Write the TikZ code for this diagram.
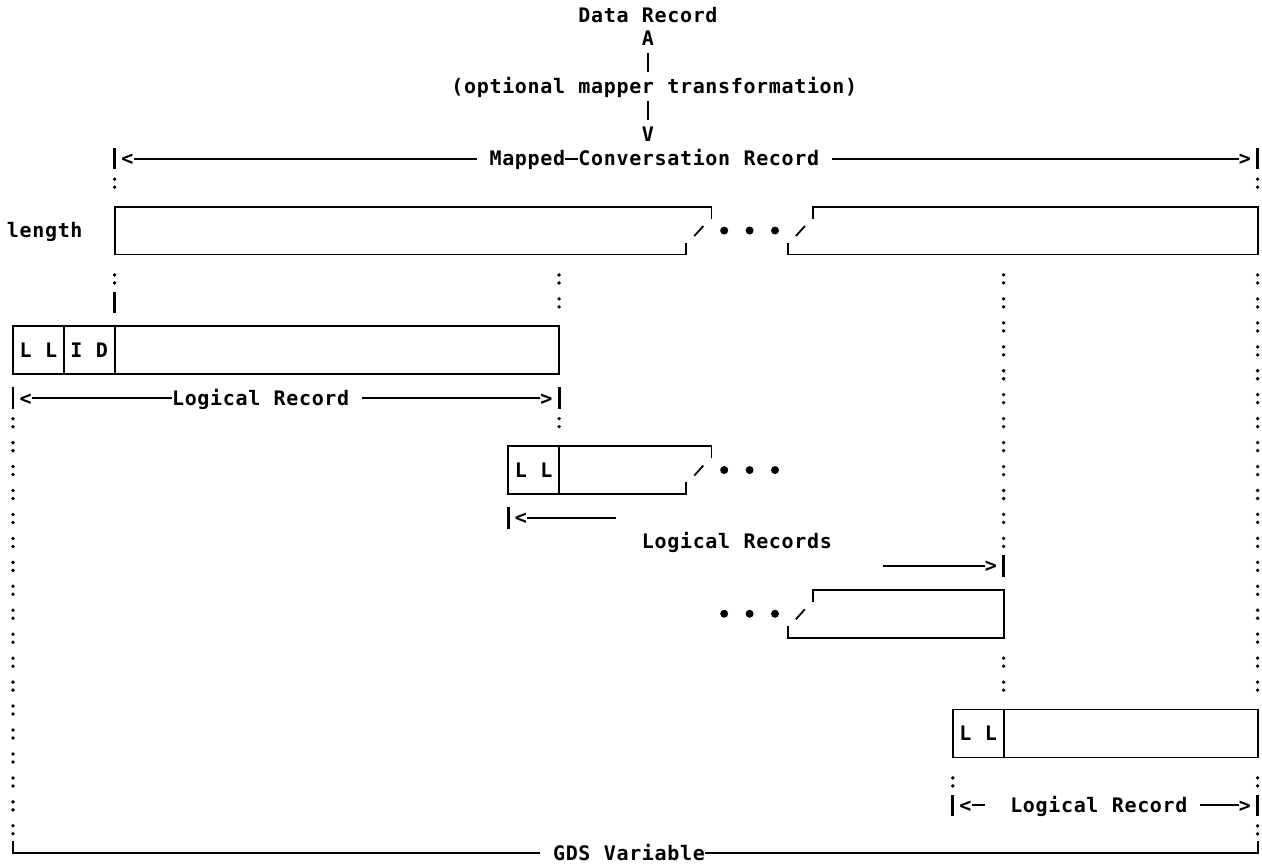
\documentclass[tikz,border=0pt]{standalone}
\usepackage{fontspec}
\newfontfamily\monofont{DejaVu Sans Mono}
% set a string on a fixed character grid, one cell per character (~ = blank cell)
\makeatletter
\def\mono#1{\mono@loop#1\mono@end}
\def\mono@end{\mono@end}
\def\mono@loop#1{\ifx#1\mono@end\else\makebox[12.7pt][c]{#1}\expandafter\mono@loop\fi}
\makeatother
\tikzset{
  txt/.style={inner sep=0pt, outer sep=0pt, anchor=base west, yshift=-7pt,
              font=\monofont\bfseries\fontsize{20pt}{22pt}\selectfont},
  rule/.style={line width=1.8pt},
  bar/.style={line width=2.8pt},
  dotpair/.pic={\fill (0pt,3.5pt) circle (1.9pt) (0pt,-4.5pt) circle (1.9pt);},
  bigdot/.pic={\fill (0pt,0pt) circle (4pt);},
  slashmark/.pic={\draw[rule] (-4.5pt,-5.5pt) -- (4.5pt,4.5pt);},
}
\begin{document}
\begin{tikzpicture}
\fill[white] (0pt,0pt) rectangle (1262pt,-863pt);
\useasboundingbox (0pt,0pt) rectangle (1262pt,-863pt);
% grid: x = character column, y = text row (downwards)
\begin{scope}[x=12.7pt, y=-23.95pt, shift={(13pt,-15pt)}]

% ---- mapper transformation ----
\node[txt] (data) at (44.5,0) {\mono{Data~Record}};
\node[txt] (up) at (49.5,1) {\mono{A}};
\draw[bar] (50,1.6) -- (50,2.4);
\node[txt] (mapper) at (34.5,3) {\mono{(optional~mapper~transformation)}};
\draw[bar] (50,3.6) -- (50,4.4);
\node[txt] (down) at (49.5,5) {\mono{V}};

% ---- mapped-conversation record extent ----
\draw[bar] (8,5.55) -- (8,6.45);
\node[txt] (mlt) at (8.5,6) {\mono{<}};
\draw[rule] (9.5,6) -- (36.5,6);
\node[txt] (mapped) at (37.5,6) {\mono{Mapped}};
\draw[rule] (43.5,6) -- (44.5,6);
\node[txt] (conv) at (44.5,6) {\mono{Conversation~Record}};
\draw[rule] (64.5,6) -- (96.5,6);
\node[txt] (mgt) at (96.5,6) {\mono{>}};
\draw[bar] (98,5.55) -- (98,6.45);

% ---- length field with broken record ----
\node[txt] (length) at (-0.5,9) {\mono{length}};
\draw[rule] (55,8.5) -- (55,8) -- (8,8) -- (8,10) -- (53,10) -- (53,9.5);
\draw[rule] (63,8.5) -- (63,8) -- (98,8) -- (98,10) -- (61,10) -- (61,9.5);
\pic at (54,9) {slashmark};
\pic at (62,9) {slashmark};
\foreach \c in {56,58,60} \pic at (\c,9) {bigdot};

% ---- first logical record ----
\draw[bar] (8,11.55) -- (8,12.45);
\draw[rule] (0,13) rectangle (43,15);
\draw[rule] (4,13) -- (4,15);
\draw[rule] (8,13) -- (8,15);
\node[txt] (ll1) at (0.5,14) {\mono{L~L}};
\node[txt] (id1) at (4.5,14) {\mono{I~D}};
\draw[bar] (0,15.55) -- (0,16.45);
\node[txt] (lt1) at (0.5,16) {\mono{<}};
\draw[rule] (1.5,16) -- (12.5,16);
\node[txt] (lr1) at (12.5,16) {\mono{Logical~Record}};
\draw[rule] (27.5,16) -- (41.5,16);
\node[txt] (gt1) at (41.5,16) {\mono{>}};
\draw[bar] (43,15.55) -- (43,16.45);

% ---- following logical records ----
\draw[rule] (55,18.5) -- (55,18) -- (39,18) -- (39,20) -- (53,20) -- (53,19.5);
\draw[rule] (43,18) -- (43,20);
\node[txt] (ll2) at (39.5,19) {\mono{L~L}};
\pic at (54,19) {slashmark};
\foreach \c in {56,58,60} \pic at (\c,19) {bigdot};
\draw[bar] (39,20.55) -- (39,21.45);
\node[txt] (lt2) at (39.5,21) {\mono{<}};
\draw[rule] (40.5,21) -- (47.5,21);
\node[txt] (lrs) at (49.5,22) {\mono{Logical~Records}};
\draw[rule] (68.5,23) -- (76.5,23);
\node[txt] (gt2) at (76.5,23) {\mono{>}};
\draw[bar] (78,22.55) -- (78,23.45);
\draw[rule] (63,24.5) -- (63,24) -- (78,24) -- (78,26) -- (61,26) -- (61,25.5);
\pic at (62,25) {slashmark};
\foreach \c in {56,58,60} \pic at (\c,25) {bigdot};

% ---- last logical record ----
\draw[rule] (74,29) rectangle (98,31);
\draw[rule] (78,29) -- (78,31);
\node[txt] (ll4) at (74.5,30) {\mono{L~L}};
\draw[bar] (74,32.55) -- (74,33.45);
\node[txt] (lt4) at (74.5,33) {\mono{<}};
\draw[rule] (75.5,33) -- (76.5,33);
\node[txt] (lr4) at (78.5,33) {\mono{Logical~Record}};
\draw[rule] (93.5,33) -- (96.5,33);
\node[txt] (gt4) at (96.5,33) {\mono{>}};
\draw[bar] (98,32.55) -- (98,33.45);

% ---- GDS variable extent ----
\draw[rule] (0,34.5) -- (0,35) -- (41.5,35);
\node[txt] (gds) at (42.5,35) {\mono{GDS~Variable}};
\draw[rule] (54.5,35) -- (98,35) -- (98,34.5);

% ---- dotted alignment columns ----
\foreach \r in {7,11} \pic at (8,\r) {dotpair};
\foreach \r in {11,12,17} \pic at (43,\r) {dotpair};
\foreach \r in {11,...,22} \pic at (78,\r) {dotpair};
\foreach \r in {27,28} \pic at (78,\r) {dotpair};
\foreach \r in {7} \pic at (98,\r) {dotpair};
\foreach \r in {11,...,28} \pic at (98,\r) {dotpair};
\foreach \r in {32,34} \pic at (98,\r) {dotpair};
\foreach \r in {17,...,34} \pic at (0,\r) {dotpair};
\pic at (74,32) {dotpair};
\end{scope}
\end{tikzpicture}
\end{document}
